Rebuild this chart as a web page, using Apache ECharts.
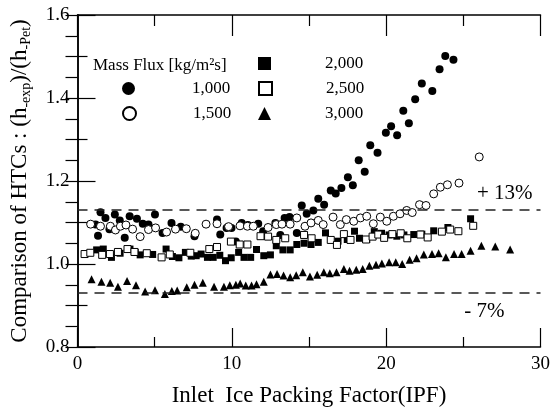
<!DOCTYPE html>
<html>
<head>
<meta charset="utf-8">
<script src="https://cdn.jsdelivr.net/npm/echarts@6/dist/echarts.min.js"></script>
<style>
  html, body { margin: 0; padding: 0; background: #fff; }
  #main { width: 553px; height: 412px; }
</style>
</head>
<body>
<div id="main"></div>
<script>
// 数据 - 每组 [IPF, h_exp/h_Pet]
var flux1000 = [
  [1.17, 1.095], [1.33, 1.068], [1.49, 1.125], [1.81, 1.111], [2.07, 1.084], [2.42, 1.119],
  [2.74, 1.105], [3.06, 1.063], [3.38, 1.115], [3.85, 1.109], [4.23, 1.097], [4.60, 1.095],
  [5.02, 1.119], [5.51, 1.075], [6.09, 1.099], [6.69, 1.090], [7.58, 1.067], [9.04, 1.107],
  [9.25, 1.071], [9.66, 1.087], [9.98, 1.087], [10.26, 1.054], [10.64, 1.099], [11.04, 1.094],
  [11.71, 1.097], [12.03, 1.079], [12.82, 1.099], [13.14, 1.070], [13.42, 1.111], [13.74, 1.113],
  [14.21, 1.075], [14.53, 1.141], [14.85, 1.121], [15.28, 1.129], [15.60, 1.157], [15.98, 1.143],
  [16.41, 1.177], [16.73, 1.170], [17.10, 1.183], [17.52, 1.209], [17.84, 1.190], [18.22, 1.250],
  [18.61, 1.222], [18.97, 1.286], [19.44, 1.268], [19.98, 1.316], [20.32, 1.332], [20.71, 1.310],
  [21.11, 1.369], [21.47, 1.339], [21.88, 1.397], [22.31, 1.435], [22.99, 1.417], [23.46, 1.469],
  [23.83, 1.501], [24.36, 1.492]
];
var flux1500 = [
  [0.85, 1.096], [1.49, 1.091], [2.13, 1.091], [2.46, 1.082], [2.78, 1.091], [3.14, 1.094],
  [3.57, 1.084], [4.06, 1.066], [4.60, 1.083], [5.06, 1.087], [5.77, 1.077], [6.35, 1.084],
  [7.05, 1.085], [7.63, 1.074], [8.33, 1.096], [9.04, 1.097], [9.79, 1.090], [10.53, 1.092],
  [11.01, 1.091], [11.39, 1.091], [12.35, 1.088], [12.88, 1.095], [13.25, 1.096], [13.78, 1.096],
  [14.21, 1.111], [14.74, 1.091], [15.13, 1.099], [15.60, 1.105], [15.92, 1.095], [16.56, 1.113],
  [17.03, 1.095], [17.42, 1.107], [17.90, 1.103], [18.33, 1.111], [18.74, 1.115], [19.17, 1.097],
  [19.62, 1.113], [20.04, 1.103], [20.47, 1.115], [20.90, 1.121], [21.33, 1.129], [21.69, 1.124],
  [22.16, 1.143], [22.58, 1.141], [23.08, 1.169], [23.51, 1.185], [23.97, 1.191], [24.72, 1.195],
  [26.03, 1.258]
];
var flux2000 = [
  [1.24, 1.034], [1.67, 1.036], [2.20, 1.016], [2.76, 1.026], [3.40, 1.036], [3.74, 1.028],
  [4.06, 1.022], [4.87, 1.023], [5.74, 1.036], [6.15, 1.018], [6.57, 1.015], [6.99, 1.028],
  [7.37, 1.019], [7.69, 1.020], [8.01, 1.024], [8.42, 1.016], [8.79, 1.016], [9.22, 1.021],
  [9.59, 1.008], [9.96, 1.015], [10.44, 1.028], [10.79, 1.016], [11.22, 1.016], [11.60, 1.035],
  [12.07, 1.020], [12.50, 1.022], [12.88, 1.044], [13.31, 1.034], [13.78, 1.034], [14.21, 1.047],
  [14.68, 1.050], [15.13, 1.047], [15.60, 1.052], [16.07, 1.075], [16.88, 1.055], [17.48, 1.059],
  [17.95, 1.079], [18.27, 1.062], [18.74, 1.059], [19.23, 1.078], [19.70, 1.074], [20.19, 1.070],
  [20.69, 1.067], [21.15, 1.070], [21.79, 1.071], [22.31, 1.072], [23.08, 1.080], [24.00, 1.088],
  [25.47, 1.109]
];
var flux2500 = [
  [0.46, 1.024], [0.83, 1.027], [1.60, 1.022], [2.10, 1.024], [2.62, 1.029], [3.24, 1.036],
  [3.69, 1.029], [4.49, 1.026], [5.45, 1.016], [5.98, 1.023], [7.31, 1.027], [8.54, 1.036],
  [9.04, 1.041], [9.94, 1.054], [10.51, 1.047], [11.01, 1.047], [11.86, 1.067], [12.35, 1.066],
  [12.88, 1.058], [13.46, 1.062], [14.68, 1.070], [15.17, 1.062], [16.41, 1.058], [16.81, 1.046],
  [17.26, 1.072], [17.69, 1.058], [18.70, 1.059], [19.12, 1.066], [19.49, 1.071], [19.87, 1.063],
  [20.40, 1.072], [20.94, 1.074], [21.37, 1.062], [22.22, 1.071], [22.69, 1.064], [23.61, 1.078],
  [24.15, 1.083], [24.68, 1.079], [25.64, 1.092]
];
var flux3000 = [
  [0.91, 0.963], [1.55, 0.957], [2.12, 0.955], [2.62, 0.945], [3.21, 0.959], [3.79, 0.949],
  [4.38, 0.934], [5.02, 0.937], [5.66, 0.928], [6.11, 0.935], [6.46, 0.936], [7.08, 0.944],
  [7.58, 0.950], [8.12, 0.955], [8.85, 0.945], [9.49, 0.945], [9.87, 0.949], [10.26, 0.950],
  [10.54, 0.953], [10.90, 0.948], [11.28, 0.948], [11.60, 0.951], [12.07, 0.957], [12.50, 0.975],
  [12.93, 0.976], [13.35, 0.972], [13.78, 0.968], [14.17, 0.973], [14.60, 0.980], [15.06, 0.970],
  [15.53, 0.974], [15.96, 0.980], [16.35, 0.978], [16.78, 0.980], [17.26, 0.988], [17.63, 0.984],
  [18.06, 0.986], [18.48, 0.988], [18.91, 0.996], [19.34, 0.998], [19.72, 1.001], [20.19, 1.004],
  [20.62, 1.004], [21.04, 1.000], [21.52, 1.010], [21.97, 1.014], [22.44, 1.023], [22.97, 1.024],
  [23.40, 1.026], [23.87, 1.016], [24.40, 1.024], [24.89, 1.024], [25.47, 1.032], [26.17, 1.044],
  [27.07, 1.042], [28.03, 1.035]
];
var seriesNames = ['1,000', '1,500', '2,000', '2,500', '3,000'];
var bandLines = [1.13, 0.93];
var bandLabels = ['+ 13%', '- 7%'];

var font = 'Liberation Serif';
var black = '#000';

var myChart = echarts.init(document.getElementById('main'));

// 图例 - 每项一个 legend
function legendItem(name, left, top, pad) {
  return {
    data: [name],
    left: left,
    top: top,
    padding: 0,
    itemWidth: 13,
    itemHeight: 13,
    selectedMode: false,
    textStyle: { fontFamily: font, fontSize: 17, color: black, padding: [0, 0, 0, pad] }
  };
}

var option = {
  animation: false,
  backgroundColor: '#fff',
  title: {
    text: 'Mass Flux [kg/m²s]',
    left: 93,
    top: 57,
    padding: 0,
    textStyle: { fontFamily: font, fontSize: 17, fontWeight: 'normal', color: black }
  },
  legend: [
    legendItem(seriesNames[0], 122, 80, 52),
    legendItem(seriesNames[1], 122, 105, 52),
    legendItem(seriesNames[2], 258, 55, 49),
    legendItem(seriesNames[3], 258, 80, 49),
    legendItem(seriesNames[4], 258, 105, 49)
  ],
  grid: { left: 75, right: 10, top: 15, bottom: 60 },
  xAxis: [{
    type: 'value',
    min: 0,
    max: 30,
    interval: 10,
    name: 'Inlet  Ice Packing Factor(IPF)',
    nameLocation: 'middle',
    nameGap: 37,
    nameTextStyle: { fontFamily: font, fontSize: 23, color: black },
    axisLine: { lineStyle: { color: black, width: 1.5 } },
    axisTick: { inside: true, length: 19, lineStyle: { color: black, width: 1.2 } },
    minorTick: { show: true, splitNumber: 2, length: 10, lineStyle: { color: black, width: 1.2 } },
    axisLabel: { fontFamily: font, fontSize: 19, color: black, margin: 8 },
    splitLine: { show: false }
  }, {
    type: 'value',
    position: 'top',
    min: 0,
    max: 30,
    interval: 10,
    axisLine: { lineStyle: { color: black, width: 1.5 } },
    axisTick: { inside: true, length: 21, lineStyle: { color: black, width: 1.2 } },
    minorTick: { show: true, splitNumber: 2, length: 11, lineStyle: { color: black, width: 1.2 } },
    axisLabel: { show: false },
    splitLine: { show: false }
  }],
  yAxis: [{
    type: 'value',
    min: 0.8,
    max: 1.6,
    interval: 0.2,
    name: '{a|Comparison of HTCs : (h}{s|-exp}{a|)/(h}{s|-Pet}{a|)}',
    nameLocation: 'middle',
    nameGap: 44,
    nameTextStyle: {
      rich: {
        a: { fontFamily: font, fontSize: 23, color: black, lineHeight: 28 },
        s: { fontFamily: font, fontSize: 14, color: black, lineHeight: 14, verticalAlign: 'bottom' }
      }
    },
    axisLine: { lineStyle: { color: black, width: 1.5 } },
    axisTick: { inside: true, length: 18, lineStyle: { color: black, width: 1.2 } },
    minorTick: { show: true, splitNumber: 2, length: 10, lineStyle: { color: black, width: 1.2 } },
    axisLabel: {
      fontFamily: font, fontSize: 19, color: black, margin: 8,
      formatter: function (v) { return v.toFixed(1); }
    },
    splitLine: { show: false }
  }, {
    type: 'value',
    position: 'right',
    min: 0.8,
    max: 1.6,
    interval: 0.05,
    axisLine: { lineStyle: { color: black, width: 1.5 } },
    axisTick: { inside: true, length: 12, lineStyle: { color: black, width: 1.2 } },
    axisLabel: { show: false },
    splitLine: { show: false }
  }],
  series: [{
    name: seriesNames[0],
    type: 'scatter',
    symbol: 'circle',
    symbolSize: 8,
    itemStyle: { color: black, opacity: 1 },
    data: flux1000
  }, {
    name: seriesNames[1],
    type: 'scatter',
    symbol: 'circle',
    symbolSize: 8,
    itemStyle: { color: '#fff', borderColor: black, borderWidth: 1, opacity: 1 },
    data: flux1500
  }, {
    name: seriesNames[2],
    type: 'scatter',
    symbol: 'rect',
    symbolSize: 7,
    itemStyle: { color: black, opacity: 1 },
    data: flux2000
  }, {
    name: seriesNames[3],
    type: 'scatter',
    symbol: 'rect',
    symbolSize: 7,
    itemStyle: { color: '#fff', borderColor: black, borderWidth: 1, opacity: 1 },
    data: flux2500
  }, {
    name: seriesNames[4],
    type: 'scatter',
    symbol: 'triangle',
    symbolSize: 8,
    itemStyle: { color: black, opacity: 1 },
    data: flux3000,
    // +13% / -7% 虚线
    markLine: {
      silent: true,
      symbol: 'none',
      lineStyle: { color: '#222', width: 1.5, type: [10, 7] },
      label: { fontFamily: font, fontSize: 21, color: black },
      data: [
        { yAxis: bandLines[0], label: { formatter: bandLabels[0], position: 'insideEndTop', distance: 6, padding: [0, 2, 0, 0] } },
        { yAxis: bandLines[1], label: { formatter: bandLabels[1], position: 'insideEndBottom', distance: 8, padding: [0, 28, 0, 0] } }
      ]
    }
  }]
};

myChart.setOption(option);
</script>
</body>
</html>
